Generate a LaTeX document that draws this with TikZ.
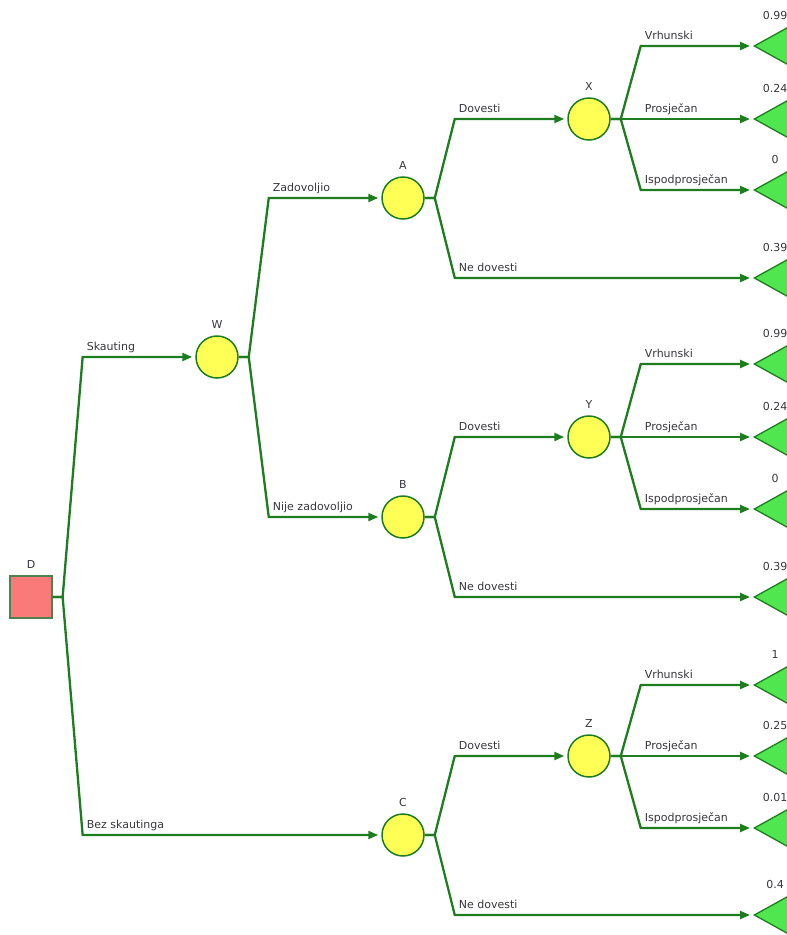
\documentclass[tikz,border=0pt]{standalone}
\usepackage{fontspec}
\setmainfont{DejaVu Sans}
\usetikzlibrary{arrows.meta,shapes.geometric}
\definecolor{branchgreen}{RGB}{30,125,30}
\definecolor{chanceyellow}{RGB}{255,255,85}
\definecolor{decisionred}{RGB}{250,122,122}
\definecolor{endgreen}{RGB}{80,230,80}
\definecolor{txtgray}{RGB}{55,55,60}
\tikzset{
  decision/.style={rectangle, draw={rgb,255:red,80;green,130;blue,80}, fill=decisionred, line width=1.3pt, minimum size=42pt, inner sep=0pt},
  chance/.style={circle, draw=branchgreen, fill=chanceyellow, line width=1.5pt, minimum size=42pt, inner sep=0pt},
  terminal/.style={isosceles triangle, shape border rotate=180, isosceles triangle apex angle=58, draw=branchgreen, fill=endgreen, line width=1.3pt, minimum height=40pt, inner sep=0pt, anchor=apex},
  branch/.style={draw=branchgreen, line width=2.3pt, -{Triangle[length=10pt,width=8pt]}, shorten >=3pt},
  lbl/.style={anchor=base west, xshift=3pt, yshift=7pt, inner sep=0pt, text=txtgray},
  val/.style={anchor=base, inner sep=0pt, text=txtgray},
  every label/.style={text=txtgray},
  label distance=3pt
}
\begin{document}
\begin{tikzpicture}[x=1pt,y=-1pt,font=\fontsize{11}{13}\selectfont]
\useasboundingbox (0,0) rectangle (787,935);
\clip (0,0) rectangle (787,935);

% decision and chance nodes
\node[decision,label=above:D] (D) at (31,597) {};
\node[chance,label=above:W] (W) at (217,357) {};
\node[chance,label=above:A] (A) at (403,198) {};
\node[chance,label=above:B] (B) at (403,517) {};
\node[chance,label=above:C] (C) at (403,835) {};
\node[chance,label=above:X] (X) at (589,119) {};
\node[chance,label=above:Y] (Y) at (589,437) {};
\node[chance,label=above:Z] (Z) at (589,756) {};

% end nodes
\foreach \n/\y in {1/46,2/119,3/190,4/278,5/364,6/437,7/509,8/597,9/685,10/756,11/828,12/915}
  \node[terminal] (t\n) at (753,\y) {};
\foreach \n/\v in {1/0.99,2/0.24,3/0,4/0.39,5/0.99,6/0.24,7/0,8/0.39,9/1,10/0.25,11/0.01,12/0.4}
  \node[val] (v\n) at ([xshift=22pt,yshift=27pt]t\n.apex) {\v};

% first level
\draw[branch] (D.east) -- ++(10,0) -- ([xshift=30pt]D.east |- W) node[lbl]{Skauting} -- (W);
\draw[branch] (D.east) -- ++(10,0) -- ([xshift=30pt]D.east |- C) node[lbl]{Bez skautinga} -- (C);

\draw[branch] (W.east) -- ++(10,0) -- ([xshift=30pt]W.east |- A) node[lbl]{Zadovoljio} -- (A);
\draw[branch] (W.east) -- ++(10,0) -- ([xshift=30pt]W.east |- B) node[lbl]{Nije zadovoljio} -- (B);

% Dovesti / Ne dovesti
\draw[branch] (A.east) -- ++(10,0) -- ([xshift=30pt]A.east |- X) node[lbl]{Dovesti} -- (X);
\draw[branch] (A.east) -- ++(10,0) -- ([xshift=30pt]A.east |- t4.apex) node[lbl]{Ne dovesti} -- (t4.apex);
\draw[branch] (B.east) -- ++(10,0) -- ([xshift=30pt]B.east |- Y) node[lbl]{Dovesti} -- (Y);
\draw[branch] (B.east) -- ++(10,0) -- ([xshift=30pt]B.east |- t8.apex) node[lbl]{Ne dovesti} -- (t8.apex);
\draw[branch] (C.east) -- ++(10,0) -- ([xshift=30pt]C.east |- Z) node[lbl]{Dovesti} -- (Z);
\draw[branch] (C.east) -- ++(10,0) -- ([xshift=30pt]C.east |- t12.apex) node[lbl]{Ne dovesti} -- (t12.apex);

% quality outcomes
\foreach \p/\a/\b/\c in {X/1/2/3,Y/5/6/7,Z/9/10/11}{
  \draw[branch] (\p.east) -- ++(10,0) -- ([xshift=30pt]\p.east |- t\a.apex) node[lbl]{Vrhunski} -- (t\a.apex);
  \draw[branch] (\p.east) -- ++(10,0) -- ([xshift=30pt]\p.east |- t\b.apex) node[lbl]{Prosječan} -- (t\b.apex);
  \draw[branch] (\p.east) -- ++(10,0) -- ([xshift=30pt]\p.east |- t\c.apex) node[lbl]{Ispodprosječan} -- (t\c.apex);
}
\end{tikzpicture}
\end{document}
